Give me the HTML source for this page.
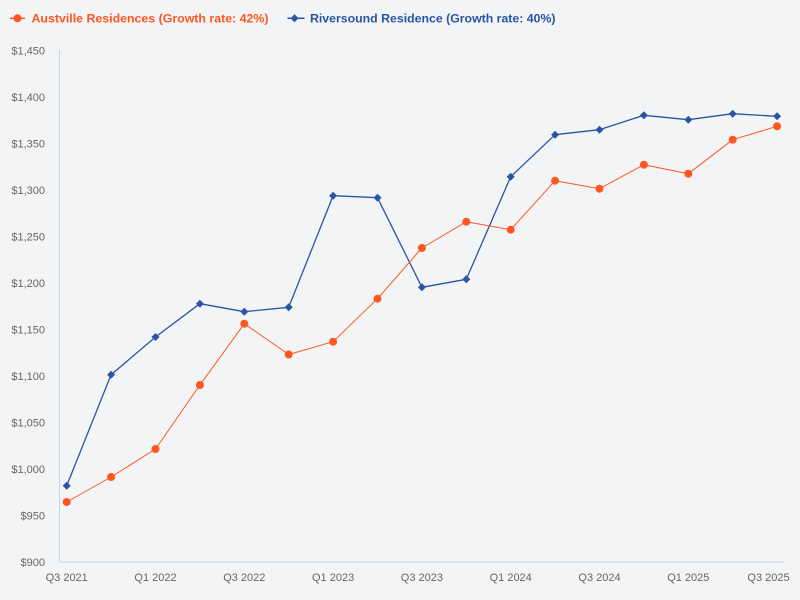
<!DOCTYPE html>
<html><head><meta charset="utf-8"><style>
html,body{margin:0;padding:0;background:#F2F4F6;}
svg{display:block;}
text{font-family:"Liberation Sans",Arial,sans-serif;}
</style></head><body>
<svg width="800" height="600" viewBox="0 0 800 600" xmlns="http://www.w3.org/2000/svg">
<rect width="800" height="600" fill="#F2F4F6"/>
<!-- legend -->
<line x1="10" y1="18.3" x2="25" y2="18.3" stroke="#FF5722" stroke-width="1.5"/>
<circle cx="17.5" cy="18.3" r="4" fill="#FF5722"/>
<text x="31.5" y="22.3" font-size="12" font-weight="bold" fill="#FF5722" textLength="237" lengthAdjust="spacingAndGlyphs">Austville Residences (Growth rate: 42%)</text>
<line x1="287.5" y1="18.3" x2="304.5" y2="18.3" stroke="#2A54A4" stroke-width="1.5"/>
<polygon points="294.5,14.3 298.5,18.3 294.5,22.3 290.5,18.3" fill="#2A54A4"/>
<text x="310" y="22.3" font-size="12" font-weight="bold" fill="#2A54A4" textLength="245.5" lengthAdjust="spacingAndGlyphs">Riversound Residence (Growth rate: 40%)</text>
<!-- axes -->
<line x1="59.5" y1="50" x2="59.5" y2="562" stroke="#C8D4E2" stroke-width="1"/>
<line x1="59.5" y1="562" x2="784" y2="562" stroke="#C8D4E2" stroke-width="1"/>
<!-- y labels -->
<g font-size="11" fill="#666" text-anchor="end">
<text x="45" y="54.3">$1,450</text>
<text x="45" y="100.8">$1,400</text>
<text x="45" y="147.3">$1,350</text>
<text x="45" y="193.9">$1,300</text>
<text x="45" y="240.4">$1,250</text>
<text x="45" y="286.9">$1,200</text>
<text x="45" y="333.4">$1,150</text>
<text x="45" y="379.9">$1,100</text>
<text x="45" y="426.4">$1,050</text>
<text x="45" y="473.0">$1,000</text>
<text x="45" y="519.5">$950</text>
<text x="45" y="566">$900</text>
</g>
<!-- x labels -->
<g font-size="11" fill="#666" text-anchor="middle">
<text x="66.7" y="581">Q3 2021</text>
<text x="155.5" y="581">Q1 2022</text>
<text x="244.3" y="581">Q3 2022</text>
<text x="333.1" y="581">Q1 2023</text>
<text x="421.9" y="581">Q3 2023</text>
<text x="510.7" y="581">Q1 2024</text>
<text x="599.5" y="581">Q3 2024</text>
<text x="688.3" y="581">Q1 2025</text>
<text x="768.5" y="581">Q3 2025</text>
</g>
<!-- blue series -->
<polyline fill="none" stroke="#2A54A4" stroke-width="1.3" stroke-linejoin="round" points="66.7,485.7 111.1,374.7 155.5,337 199.9,303.7 244.3,311.7 288.7,307.3 333.1,195.7 377.5,197.7 421.9,287.3 466.3,279.3 510.7,176.7 555.1,134.7 599.5,129.7 643.9,115.3 688.3,119.7 732.7,113.7 777.1,116.3"/>
<g fill="#2A54A4">
<polygon points="66.7,481.7 70.7,485.7 66.7,489.7 62.7,485.7"/>
<polygon points="111.1,370.7 115.1,374.7 111.1,378.7 107.1,374.7"/>
<polygon points="155.5,333 159.5,337 155.5,341 151.5,337"/>
<polygon points="199.9,299.7 203.9,303.7 199.9,307.7 195.9,303.7"/>
<polygon points="244.3,307.7 248.3,311.7 244.3,315.7 240.3,311.7"/>
<polygon points="288.7,303.3 292.7,307.3 288.7,311.3 284.7,307.3"/>
<polygon points="333.1,191.7 337.1,195.7 333.1,199.7 329.1,195.7"/>
<polygon points="377.5,193.7 381.5,197.7 377.5,201.7 373.5,197.7"/>
<polygon points="421.9,283.3 425.9,287.3 421.9,291.3 417.9,287.3"/>
<polygon points="466.3,275.3 470.3,279.3 466.3,283.3 462.3,279.3"/>
<polygon points="510.7,172.7 514.7,176.7 510.7,180.7 506.7,176.7"/>
<polygon points="555.1,130.7 559.1,134.7 555.1,138.7 551.1,134.7"/>
<polygon points="599.5,125.7 603.5,129.7 599.5,133.7 595.5,129.7"/>
<polygon points="643.9,111.3 647.9,115.3 643.9,119.3 639.9,115.3"/>
<polygon points="688.3,115.7 692.3,119.7 688.3,123.7 684.3,119.7"/>
<polygon points="732.7,109.7 736.7,113.7 732.7,117.7 728.7,113.7"/>
<polygon points="777.1,112.3 781.1,116.3 777.1,120.3 773.1,116.3"/>
</g>
<!-- orange series -->
<polyline fill="none" stroke="#FF5722" stroke-width="1" stroke-linejoin="round" points="66.7,502 111.1,477 155.5,449 199.9,385 244.3,323.7 288.7,354.5 333.1,341.7 377.5,298.7 421.9,248 466.3,221.7 510.7,229.7 555.1,180.7 599.5,188.7 643.9,164.7 688.3,173.7 732.7,139.7 777.1,126.3"/>
<g fill="#FF5722">
<circle cx="66.7" cy="502" r="4"/>
<circle cx="111.1" cy="477" r="4"/>
<circle cx="155.5" cy="449" r="4"/>
<circle cx="199.9" cy="385" r="4"/>
<circle cx="244.3" cy="323.7" r="4"/>
<circle cx="288.7" cy="354.5" r="4"/>
<circle cx="333.1" cy="341.7" r="4"/>
<circle cx="377.5" cy="298.7" r="4"/>
<circle cx="421.9" cy="248" r="4"/>
<circle cx="466.3" cy="221.7" r="4"/>
<circle cx="510.7" cy="229.7" r="4"/>
<circle cx="555.1" cy="180.7" r="4"/>
<circle cx="599.5" cy="188.7" r="4"/>
<circle cx="643.9" cy="164.7" r="4"/>
<circle cx="688.3" cy="173.7" r="4"/>
<circle cx="732.7" cy="139.7" r="4"/>
<circle cx="777.1" cy="126.3" r="4"/>
</g>
</svg>
</body></html>
